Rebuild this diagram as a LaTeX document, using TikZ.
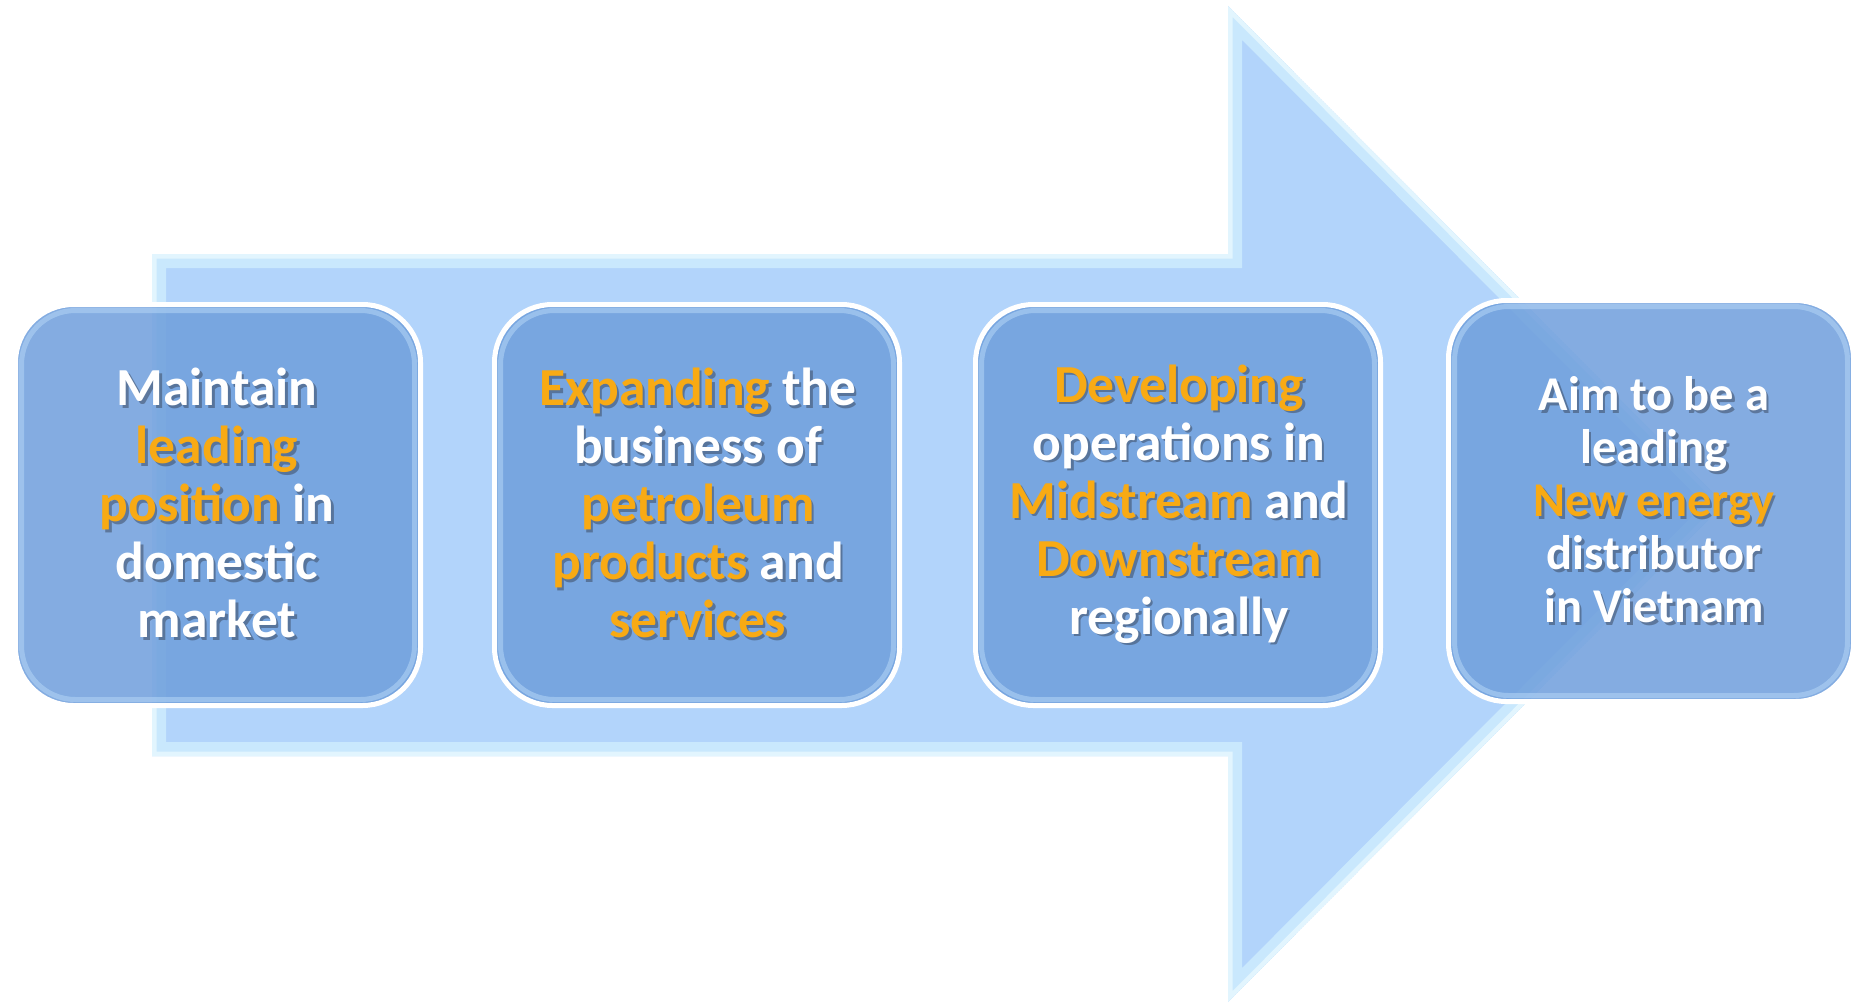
\documentclass[tikz,border=0pt]{standalone}
\usepackage{fontspec}
\setmainfont{Carlito}
\definecolor{arrowmain}{HTML}{B2D4FB}
\definecolor{arrowbevel}{HTML}{C9E8FD}
\definecolor{arrowedge}{HTML}{E2F5FE}
\definecolor{boxblue}{HTML}{6E9EDC}
\definecolor{boxglow}{HTML}{B5D6F7}
\definecolor{hlorange}{HTML}{F8AA14}
\definecolor{shadowc}{HTML}{303848}
\newcommand\hlcolor{hlorange}
\newcommand\hl[1]{{\color{\hlcolor}#1}}
\tikzset{
  boxshape/.style={rounded corners=58pt, minimum width=405pt, minimum height=401pt,
    fill=boxblue, fill opacity=0.85, draw=white, line width=5pt, inner sep=0pt},
  boxinner/.style={rounded corners=54pt, minimum width=393pt, minimum height=389pt,
    draw=boxglow, draw opacity=0.55, line width=5pt, inner sep=0pt},
  bigtext/.style={align=center, text=white, inner sep=0pt,
    font=\fontsize{53.5}{58}\selectfont\bfseries},
  smalltext/.style={align=center, text=white, inner sep=0pt,
    font=\fontsize{48.5}{53}\selectfont\bfseries},
  shadowtext/.style={text=shadowc, text opacity=0.45,
    execute at begin node={\def\hlcolor{shadowc}}},
}
\begin{document}
\begin{tikzpicture}[x=1pt,y=-1pt]
\useasboundingbox (0,0) rectangle (1858,1006);
% big arrow
\coordinate (a1) at (152,254);
\coordinate (a2) at (1228,254);
\coordinate (a3) at (1228,6);
\coordinate (a4) at (1724,504);
\coordinate (a5) at (1228,1002);
\coordinate (a6) at (1228,756);
\coordinate (a7) at (152,756);
\begin{scope}
  \clip (a1) -- (a2) -- (a3) -- (a4) -- (a5) -- (a6) -- (a7) -- cycle;
  \fill[arrowmain] (a1) -- (a2) -- (a3) -- (a4) -- (a5) -- (a6) -- (a7) -- cycle;
  \draw[arrowbevel, line width=28pt, line join=miter] (a1) -- (a2) -- (a3) -- (a4) -- (a5) -- (a6) -- (a7) -- cycle;
  \draw[arrowedge, line width=9pt, line join=miter] (a1) -- (a2) -- (a3) -- (a4) -- (a5) -- (a6) -- (a7) -- cycle;
\end{scope}
% boxes
\node[boxshape] (b1) at (218,505) {};
\node[boxinner] (b1i) at (218,505) {};
\node[boxshape] (b2) at (697,505) {};
\node[boxinner] (b2i) at (697,505) {};
\node[boxshape] (b3) at (1178,505) {};
\node[boxinner] (b3i) at (1178,505) {};
\node[boxshape] (b4) at (1651,501) {};
\node[boxinner] (b4i) at (1651,501) {};
% texts
\newcommand\tone{Maintain\\\hl{leading}\\\hl{position} in\\domestic\\market}
\newcommand\ttwo{\hl{Expanding} the\\business of\\\hl{petroleum}\\\hl{products} and\\\hl{services}}
\newcommand\tthree{\hl{Developing}\\operations in\\\hl{Midstream} and\\\hl{Downstream}\\regionally}
\newcommand\tfour{Aim to be a\\leading\\\hl{New energy}\\distributor\\in Vietnam}
\node[bigtext, shadowtext] (s1) at (219.5,505.5) {\tone};
\node[bigtext] (t1) at (217,503) {\tone};
\node[bigtext, shadowtext] (s2) at (700.5,505.5) {\ttwo};
\node[bigtext] (t2) at (698,503) {\ttwo};
\node[bigtext, shadowtext] (s3) at (1181.5,506.5) {\tthree};
\node[bigtext] (t3) at (1179,504) {\tthree};
\node[smalltext, shadowtext] (s4) at (1656.5,502.5) {\tfour};
\node[smalltext] (t4) at (1654,500) {\tfour};
\end{tikzpicture}
\end{document}
